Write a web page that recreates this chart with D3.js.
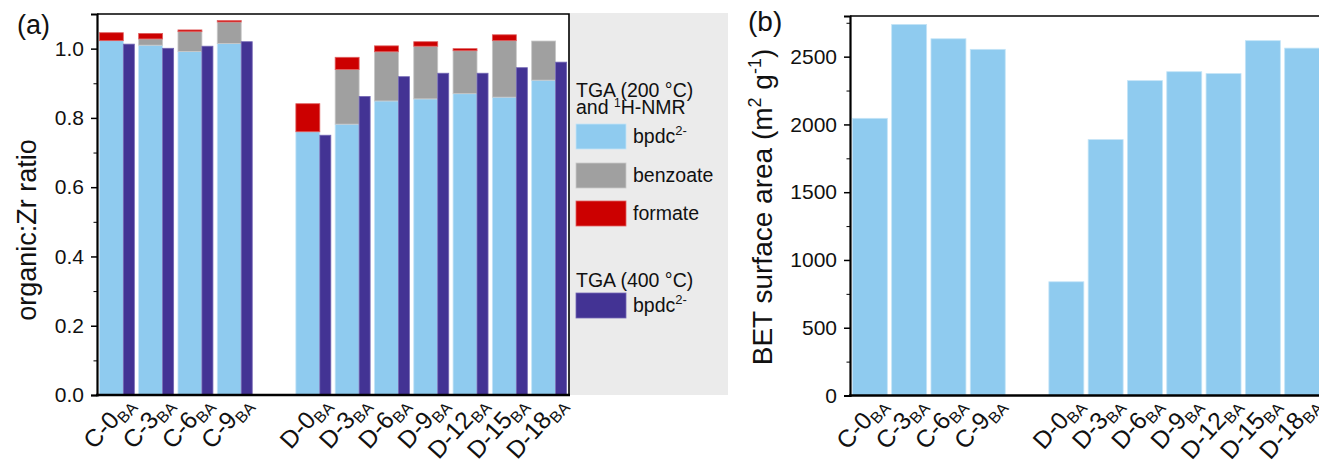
<!DOCTYPE html>
<meta charset="utf-8">
<title>organic:Zr ratio / BET</title>
<script src="https://cdn.jsdelivr.net/npm/d3@7"></script>
<style>
  html,body{margin:0;background:#fff}
  svg{display:block;font-family:"Liberation Sans",Arial,sans-serif}
  .axis path,.axis line{stroke:#000}
  .axis text{font-family:"Liberation Sans",Arial,sans-serif;font-size:21px;fill:#111}
</style>
<svg width="1319" height="470"></svg>
<script>
// ---- data ----
const catsC = ['C-0','C-3','C-6','C-9'];
const catsD = ['D-0','D-3','D-6','D-9','D-12','D-15','D-18'];
const cats  = [...catsC, ...catsD];
const slots = [...catsC, 'gap', ...catsD];

// panel (a): TGA (200 °C) + 1H-NMR stacks
const bpdc200  = [1.023,1.010,0.992,1.015, 0.760,0.782,0.849,0.855,0.870,0.860,0.909];
const benzoate = [0.000,0.018,0.057,0.062, 0.000,0.158,0.142,0.152,0.124,0.163,0.113];
const formate  = [0.023,0.016,0.005,0.004, 0.081,0.035,0.017,0.013,0.006,0.017,0.000];
// panel (a): TGA (400 °C)
const bpdc400  = [1.013,1.001,1.007,1.020, 0.750,0.862,0.919,0.929,0.929,0.945,0.961];
// panel (b): BET surface area
const bet      = [2045,2738,2632,2554, 839,1888,2323,2389,2375,2618,2563];

const ratioTicks = [0,0.2,0.4,0.6,0.8,1.0];
const ratioMinor = [0.1,0.3,0.5,0.7,0.9];
const betTicks   = [0,500,1000,1500,2000,2500];
const betMinor   = [250,750,1250,1750,2250,2750];

const col = {light:'#8fcbef', dark:'#433394', gray:'#a0a0a0', red:'#cc0000'};

const svg = d3.select('svg');

function xLabels(g){
  g.selectAll('.tick').each(function(d){
    const t = d3.select(this).append('text')
      .attr('text-anchor','end')
      .attr('transform','translate(18,10) rotate(-48)');
    t.append('tspan').style('font-size','24.5px').text(d);
    t.append('tspan').style('font-size','16px').attr('dy',5).text('BA');
  });
}

/* ---------- panel (a) ---------- */
const A = {l:97, r:569, t:14, b:395};
const xa = d3.scaleBand().domain(slots).range([A.l,A.r]).paddingInner(0.11).paddingOuter(0.06);
const ya = d3.scaleLinear().domain([0,1.1]).range([A.b,A.t]);
const split = 0.685;

// legend background
svg.append('rect').attr('x',A.r).attr('y',13).attr('width',159).attr('height',A.b-13).attr('fill','#ebebeb');

const rows = cats.map((c,i)=>({cat:c, bpdc:bpdc200[i], benzoate:benzoate[i], formate:formate[i]}));
const stack = d3.stack().keys(['bpdc','benzoate','formate'])(rows);
const stackCol = {bpdc:col.light, benzoate:col.gray, formate:col.red};
const stroke = {bpdc:'#c4e4f7', benzoate:'#c8c8c8', formate:'#e06060'};

const gA = svg.append('g');
stack.forEach(layer=>{
  gA.append('g').selectAll('rect')
    .data(layer.filter(d=>d[1]-d[0]>0))
    .join('rect')
    .attr('x',d=>xa(d.data.cat))
    .attr('width',xa.bandwidth()*split)
    .attr('y',d=>ya(d[1]))
    .attr('height',d=>ya(d[0])-ya(d[1]))
    .attr('fill',stackCol[layer.key])
    .attr('stroke',stroke[layer.key]).attr('stroke-width',0.8);
});
gA.append('g').selectAll('rect')
  .data(cats)
  .join('rect')
  .attr('x',c=>xa(c)+xa.bandwidth()*split)
  .attr('width',xa.bandwidth()*(1-split))
  .attr('y',(c,i)=>ya(bpdc400[i]))
  .attr('height',(c,i)=>ya(0)-ya(bpdc400[i]))
  .attr('fill',col.dark).attr('stroke','#7468b4').attr('stroke-width',0.8);

// frame
svg.append('path').attr('d',`M${A.l},${A.t}H${A.r}V${A.b}`).attr('fill','none').attr('stroke','#000').attr('stroke-width',1.6);

svg.append('g').attr('class','axis').attr('transform',`translate(${A.l},0)`)
  .call(d3.axisLeft(ya).tickValues(ratioMinor).tickSize(3.5).tickFormat(''))
  .call(g=>g.select('.domain').remove());
svg.append('g').attr('class','axis').attr('transform',`translate(${A.l},0)`)
  .call(d3.axisLeft(ya).tickValues(ratioTicks).tickSize(6).tickPadding(7).tickFormat(d3.format('.1f')))
  .call(g=>g.select('.domain').attr('stroke-width',2.2))
  .call(g=>g.selectAll('line').attr('stroke-width',1.5));
svg.append('g').attr('class','axis').attr('transform',`translate(0,${A.b})`)
  .call(d3.axisBottom(xa).tickValues(cats).tickSize(0).tickFormat(''))
  .call(g=>g.select('.domain').attr('stroke-width',2.6).attr('d',`M${A.l-1},0H${A.r+1}`))
  .call(xLabels);

svg.append('text').attr('transform','translate(36,230) rotate(-90)')
  .attr('text-anchor','middle').attr('font-size',27).attr('fill','#111').text('organic:Zr ratio');
svg.append('text').attr('x',17).attr('y',34).attr('font-size',27).attr('fill','#111').text('(a)');

// legend
const lg = svg.append('g').attr('transform','translate(576,0)').attr('fill','#111').attr('font-size',19.5);
lg.append('text').attr('y',97).text('TGA (200 °C)');
const l2 = lg.append('text').attr('y',114);
l2.append('tspan').text('and ');
l2.append('tspan').attr('font-size',12).attr('dy',-7).text('1');
l2.append('tspan').attr('dy',7).text('H-NMR');
const legendItems = [
  {y:124, fill:col.light, stroke:stroke.bpdc, label:'bpdc', sup:true},
  {y:163, fill:col.gray, stroke:stroke.benzoate, label:'benzoate'},
  {y:201, fill:col.red, stroke:stroke.formate, label:'formate'},
  {y:293, fill:col.dark, stroke:'#7468b4', label:'bpdc', sup:true}
];
legendItems.forEach(it=>{
  lg.append('rect').attr('x',0).attr('y',it.y).attr('width',50).attr('height',25)
    .attr('fill',it.fill).attr('stroke',it.stroke).attr('stroke-width',0.8);
  const t = lg.append('text').attr('x',57).attr('y',it.y+19);
  t.append('tspan').text(it.label);
  if(it.sup) t.append('tspan').attr('font-size',13).attr('dy',-8).text('2-');
});
lg.append('text').attr('y',287).text('TGA (400 °C)');

/* ---------- panel (b) ---------- */
const B = {l:850, r:1322, t:16, b:395.5};
const xb = d3.scaleBand().domain(slots).range([B.l,B.r]).paddingInner(0.11).paddingOuter(0.06);
const yb = d3.scaleLinear().domain([0,2800]).range([B.b,B.t]);

svg.append('g').selectAll('rect')
  .data(cats)
  .join('rect')
  .attr('x',c=>xb(c))
  .attr('width',xb.bandwidth())
  .attr('y',(c,i)=>yb(bet[i]))
  .attr('height',(c,i)=>yb(0)-yb(bet[i]))
  .attr('fill',col.light).attr('stroke','#c4e4f7').attr('stroke-width',0.8);

svg.append('path').attr('d',`M${B.l},${B.t}H${B.r}`).attr('stroke','#000').attr('stroke-width',1.6);

svg.append('g').attr('class','axis').attr('transform',`translate(${B.l},0)`)
  .call(d3.axisLeft(yb).tickValues(betMinor).tickSize(3.5).tickFormat(''))
  .call(g=>g.select('.domain').remove());
svg.append('g').attr('class','axis').attr('transform',`translate(${B.l},0)`)
  .call(d3.axisLeft(yb).tickValues(betTicks).tickSize(6).tickPadding(7).tickFormat(d3.format('d')))
  .call(g=>g.select('.domain').attr('stroke-width',2.2))
  .call(g=>g.selectAll('line').attr('stroke-width',1.5));
svg.append('g').attr('class','axis').attr('transform',`translate(0,${B.b})`)
  .call(d3.axisBottom(xb).tickValues(cats).tickSize(0).tickFormat(''))
  .call(g=>g.select('.domain').attr('stroke-width',2.6).attr('d',`M${B.l-1},0H${B.r}`))
  .call(xLabels);

const bt = svg.append('text').attr('transform','translate(772,207) rotate(-90)')
  .attr('text-anchor','middle').attr('font-size',28).attr('fill','#111');
bt.append('tspan').text('BET surface area (m');
bt.append('tspan').attr('font-size',18).attr('dy',-11).text('2');
bt.append('tspan').attr('dy',11).text(' g');
bt.append('tspan').attr('font-size',18).attr('dy',-11).text('-1');
bt.append('tspan').attr('dy',11).text(')');
svg.append('text').attr('x',748).attr('y',31).attr('font-size',28).attr('fill','#111').text('(b)');
</script>
